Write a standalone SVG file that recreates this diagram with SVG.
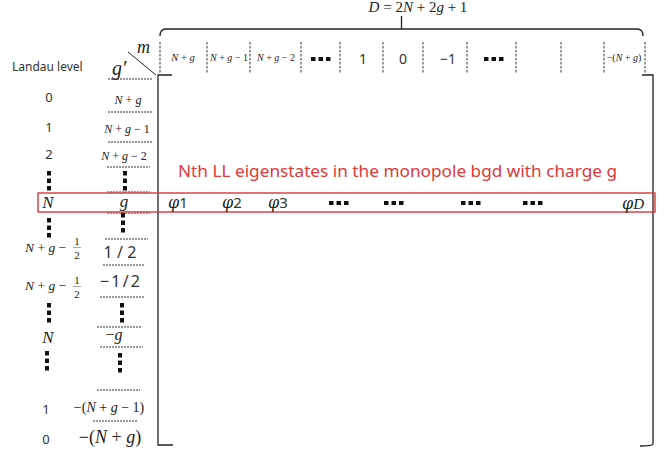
<svg xmlns="http://www.w3.org/2000/svg" width="665" height="455" viewBox="0 0 665 455">
<style>
.m{font-family:"Liberation Serif",serif;fill:#222}
.i{font-style:italic}
.s{font-family:"Noto Sans","DejaVu Sans",sans-serif;fill:#333}
.dh{stroke:#333;stroke-width:1;stroke-dasharray:2 1;fill:none}
.dv{stroke:#333;stroke-width:1;stroke-dasharray:2.5 1.5;fill:none}
.ln{stroke:#222;stroke-width:1.3;fill:none}
.red{font-family:"Noto Sans","DejaVu Sans",sans-serif;fill:#e0393c;font-size:17px}
.phi{font-family:"DejaVu Serif",serif;font-style:italic;fill:#222;font-size:16px}
</style>
<defs>
<g id="hd"><rect x="0" y="0" width="4.5" height="4" fill="#111"/><rect x="7.5" y="0" width="4.5" height="4" fill="#111"/><rect x="15" y="0" width="4.5" height="4" fill="#111"/></g>
<g id="vd"><rect x="0" y="0" width="4" height="4.5" fill="#111"/><rect x="0" y="7.5" width="4" height="4.5" fill="#111"/><rect x="0" y="15" width="4" height="4.5" fill="#111"/></g>
</defs>
<rect width="665" height="455" fill="#fff"/>

<g id="brace">
<path class="ln" d="M160,36 Q160,29 166,29 H637 Q643,29 643,36 M401.5,29 V16"/>
<text class="m" x="418" y="12" font-size="15" text-anchor="middle"><tspan class="i">D</tspan> = 2<tspan class="i">N</tspan> + 2<tspan class="i">g</tspan> + 1</text>
</g>

<g id="header">
<path class="dv" d="M160,42 V74 M207,42 V74 M250,42 V74 M301,42 V74 M340,42 V74 M383,42 V74 M423,42 V74 M467,42 V74 M516,42 V74 M561,42 V74 M604,42 V74 M645,42 V74"/>
<text class="m" x="183" y="61" font-size="10.5" text-anchor="middle"><tspan class="i">N</tspan> + <tspan class="i">g</tspan></text>
<text class="m" x="229" y="61" font-size="10" text-anchor="middle"><tspan class="i">N</tspan> + <tspan class="i">g</tspan> − 1</text>
<text class="m" x="276" y="61" font-size="10" text-anchor="middle"><tspan class="i">N</tspan> + <tspan class="i">g</tspan> − 2</text>
<use href="#hd" x="311" y="57"/>
<text class="s" x="363" y="64" font-size="14" text-anchor="middle">1</text>
<text class="s" x="403" y="64" font-size="14" text-anchor="middle">0</text>
<text class="s" x="448" y="64" font-size="14" text-anchor="middle">−1</text>
<use href="#hd" x="484" y="57"/>
<text class="m" x="624" y="61" font-size="10" text-anchor="middle">−(<tspan class="i">N</tspan> + <tspan class="i">g</tspan>)</text>
</g>

<g id="corner">
<text class="s" x="12" y="71" font-size="12" fill="#444">Landau level</text>
<text class="m i" x="137" y="53" font-size="18">m</text>
<text class="m i" x="112" y="75" font-size="20">g′</text>
<line x1="128" y1="52" x2="156" y2="75" stroke="#222" stroke-width="1"/>
</g>

<g id="frame">
<path class="ln" d="M172,75 H158 V445 H173"/>
<path class="ln" d="M642,75 H653 V444 Q653,446 640,446"/>
</g>

<g id="leftcol">
<path class="dh" d="M108,79 H152 M108,112 H152 M108,142 H152 M107,167 H150 M107,192 H150 M107,213 H150 M105,239 H148 M103,265 H145 M100,297 H145 M97,327 H142 M100,347 H143 M97,390 H140 M93,421 H137"/>
<text class="s" x="49" y="102" font-size="13" text-anchor="middle">0</text>
<text class="m" x="128" y="104" font-size="12" text-anchor="middle"><tspan class="i">N</tspan> + <tspan class="i">g</tspan></text>
<text class="s" x="49" y="132" font-size="13" text-anchor="middle">1</text>
<text class="m" x="127" y="133" font-size="12" text-anchor="middle"><tspan class="i">N</tspan> + <tspan class="i">g</tspan> − 1</text>
<text class="s" x="49" y="159" font-size="13" text-anchor="middle">2</text>
<text class="m" x="124" y="160" font-size="12" text-anchor="middle"><tspan class="i">N</tspan> + <tspan class="i">g</tspan> − 2</text>
<use href="#vd" x="47" y="171"/>
<use href="#vd" x="123" y="171"/>
<text class="m i" x="48" y="208" font-size="17" text-anchor="middle">N</text>
<text class="m i" x="124" y="207" font-size="17" text-anchor="middle">g</text>
<use href="#vd" x="47" y="218"/>
<use href="#vd" x="121" y="213"/>
<text class="m" x="25" y="252" font-size="13.5"><tspan class="i">N</tspan> + <tspan class="i">g</tspan> −</text>
<text class="m" x="77" y="244.5" font-size="11" text-anchor="middle">1</text>
<line x1="73" y1="247.5" x2="81" y2="247.5" stroke="#555" stroke-width="0.5"/>
<text class="m" x="77" y="258.5" font-size="11" text-anchor="middle">2</text>
<text class="s" x="120" y="258" font-size="16" text-anchor="middle" textLength="33" lengthAdjust="spacing">1/2</text>
<text class="m" x="25" y="290" font-size="13.5"><tspan class="i">N</tspan> + <tspan class="i">g</tspan> −</text>
<text class="m" x="77" y="283.5" font-size="11" text-anchor="middle">1</text>
<line x1="73" y1="286.5" x2="81" y2="286.5" stroke="#555" stroke-width="0.5"/>
<text class="m" x="77" y="297.5" font-size="11" text-anchor="middle">2</text>
<text class="s" x="120" y="287" font-size="16" text-anchor="middle" textLength="40" lengthAdjust="spacing">−1/2</text>
<use href="#vd" x="47" y="303"/>
<use href="#vd" x="120" y="303"/>
<text class="m i" x="48" y="343" font-size="17" text-anchor="middle">N</text>
<text class="m" x="114" y="340" font-size="16" text-anchor="middle">−<tspan class="i">g</tspan></text>
<use href="#vd" x="45" y="351"/>
<use href="#vd" x="118" y="353"/>
<text class="s" x="46" y="414" font-size="13" text-anchor="middle">1</text>
<text class="m" x="109" y="412" font-size="14" text-anchor="middle">−(<tspan class="i">N</tspan> + <tspan class="i">g</tspan> − 1)</text>
<text class="s" x="46" y="444" font-size="13" text-anchor="middle">0</text>
<text class="m" x="110" y="443" font-size="18" text-anchor="middle">−(<tspan class="i">N</tspan> + <tspan class="i">g</tspan>)</text>
</g>

<g id="highlight">
<rect x="38" y="193" width="617" height="19" fill="none" stroke="#d8383c" stroke-width="1.4"/>
<text class="red" x="178" y="177" textLength="439" lengthAdjust="spacingAndGlyphs">Nth LL eigenstates in the monopole bgd with charge g</text>
</g>

<g id="phirow">
<text x="168" y="208"><tspan class="phi">φ</tspan><tspan class="s" font-size="15" fill="#222">1</tspan></text>
<text x="222" y="208"><tspan class="phi">φ</tspan><tspan class="s" font-size="15" fill="#222">2</tspan></text>
<text x="268" y="208"><tspan class="phi">φ</tspan><tspan class="s" font-size="15" fill="#222">3</tspan></text>
<use href="#hd" x="329" y="201"/>
<use href="#hd" x="384" y="201"/>
<use href="#hd" x="461" y="201"/>
<use href="#hd" x="523" y="201"/>
<text x="622" y="209"><tspan class="phi">φ</tspan><tspan class="m i" font-size="15">D</tspan></text>
</g>
</svg>
